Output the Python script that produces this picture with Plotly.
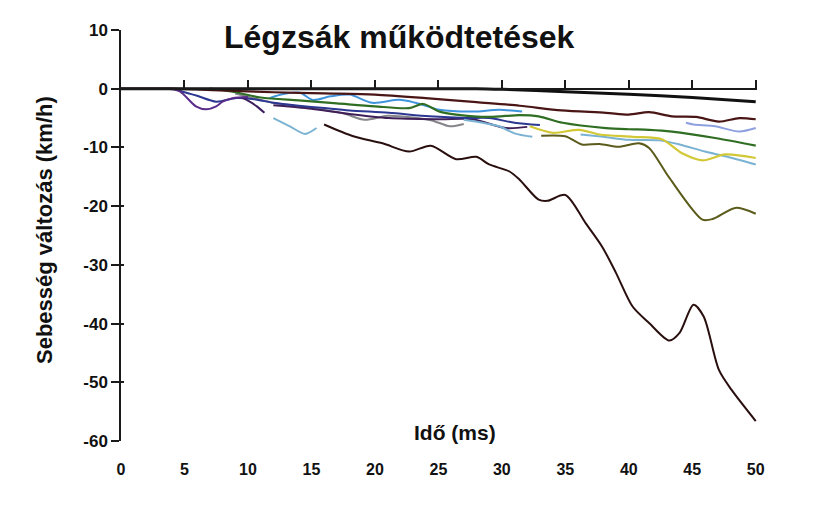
import plotly.graph_objects as go

# ---- data (time in ms, velocity change in km/h) ----
t_black = [0, 5, 10, 15, 20, 25, 28, 30, 35, 40, 45, 50]
v_black = [0, 0, 0, 0, 0, 0, 0, -0.1, -0.5, -0.95, -1.5, -2.2]

t_maroon = [0, 4, 8, 12, 16, 20, 24, 28, 31.4, 34.7, 38.2, 40, 41.6, 43.4, 45.3, 47.1, 48.7, 50]
v_maroon = [0, 0, -0.3, -0.6, -0.8, -1.0, -1.6, -2.3, -2.9, -3.7, -4.1, -4.4, -4.0, -4.7, -4.8, -5.6, -5.0, -5.2]

t_green = [7, 9, 11, 14, 17, 20, 22.7, 23.8, 25.1, 26.4, 29, 31.4, 32.9, 34.8, 38.2, 40, 41.6, 43.4, 46.8, 50]
v_green = [0, -0.6, -1.5, -2.0, -2.5, -3.0, -3.3, -2.6, -3.9, -4.4, -4.8, -4.5, -4.7, -5.8, -6.7, -6.9, -7.0, -7.3, -8.4, -9.7]

t_yellow = [32.2, 34, 36.1, 37.7, 40.3, 42.6, 44.2, 45.8, 47.6, 50]
v_yellow = [-6.4, -7.5, -7.0, -7.8, -8.2, -8.6, -11.0, -12.2, -11.2, -11.8]

t_lightblue = [27, 28.5, 29.8, 31, 32.4, 34, 36.2, 38, 40, 42.4, 44, 46, 47.6, 50]
v_lightblue = [-5.3, -5.8, -6.4, -7.6, -8.2, None, -7.8, -8.2, -8.7, -8.8, -9.5, -10.7, -11.5, -12.9]

t_olive = [33.1, 35, 36.3, 37.7, 39.2, 40.8, 41.6, 43.2, 45.8, 46.6, 48.4, 50]
v_olive = [-8.0, -8.1, -9.5, -9.4, -9.9, -9.3, -10.1, -15.2, -22.3, -22.2, -20.3, -21.3]

t_lavender = [44.5, 45.1, 46.8, 48.7, 50]
v_lavender = [-5.8, -6.1, -6.4, -7.3, -6.7]

t_brown = [16.0, 18.3, 20.6, 22.7, 24.4, 26.4, 28.0, 29.0, 30.6, 31.4, 32.9, 33.6, 35.0,
           36.6, 37.9, 39.0, 40.3, 41.6, 43.2, 44.0, 45.1, 45.9, 47.1, 48.1, 50.0]
v_brown = [-6.1, -8.1, -9.3, -10.7, -9.7, -12.0, -11.6, -12.9, -14.1, -15.5, -18.9, -19.1, -18.1,
           -22.9, -26.9, -31.4, -37.1, -39.9, -42.9, -41.6, -36.8, -38.8, -47.9, -51.3, -56.6]

t_purple = [3.5, 4.6, 5.9, 6.7, 7.5, 8.0, 8.8, 10]
v_purple = [0, -0.4, -3.0, -3.5, -3.0, -2.2, -1.6, -1.4]

t_darkpurple = [9.5, 9.9, 10.7, 11.3]
v_darkpurple = [-1.5, -1.9, -3.0, -4.1]

t_skyblue = [12.0, 13.3, 14.5, 15.4]
v_skyblue = [-5.0, -6.4, -7.7, -6.7]

t_blue = [11.7, 12.8, 14.1, 15.1, 16.5, 18.0, 19.8, 21.9, 23.2, 25.1, 27.7, 29.8, 31.6]
v_blue = [-1.6, -0.9, -0.7, -1.9, -1.3, -1.0, -2.4, -1.9, -2.4, -3.6, -3.9, -3.6, -3.9]

t_navy = [4.2, 5, 6, 7.5, 9.1, 10.5, 12, 14, 16, 18, 21.1, 24.3, 27.2, 29, 31, 33]
v_navy = [0, -0.6, -1.2, -2.2, -1.6, -1.8, -2.4, -2.9, -3.3, -3.7, -4.1, -4.7, -5.0, -5.0, -5.8, -6.2]

t_purple2 = [12, 15, 18, 21.1, 25.1, 27.7, 30.3, 32]
v_purple2 = [-2.8, -3.4, -4.3, -5.0, -5.2, -5.2, -6.7, -6.5]

t_grey = [9, 12, 15, 17.5, 19.2, 21, 23, 24.5, 25.9, 27]
v_grey = [-0.8, -2.4, -3.3, -4.2, -5.3, -4.6, -4.9, -5.4, -6.4, -6.0]

series = [
    (t_grey, v_grey, "#85858a", 2),
    (t_purple2, v_purple2, "#3f1f58", 2),
    (t_navy, v_navy, "#2b3790", 2),
    (t_blue, v_blue, "#3f94dc", 2),
    (t_skyblue, v_skyblue, "#7bb4d2", 2),
    (t_darkpurple, v_darkpurple, "#3c1e5e", 2),
    (t_purple, v_purple, "#5a2d8a", 2),
    (t_lightblue, v_lightblue, "#7ab2d4", 2),
    (t_lavender, v_lavender, "#8fa0e0", 2),
    (t_yellow, v_yellow, "#d2c836", 2.2),
    (t_olive, v_olive, "#5b5b1c", 2),
    (t_green, v_green, "#2f6e23", 2.2),
    (t_maroon, v_maroon, "#4a1515", 2.2),
    (t_brown, v_brown, "#2a0f0f", 2),
    (t_black, v_black, "#111111", 3),
]

x_ticks = [0, 5, 10, 15, 20, 25, 30, 35, 40, 45, 50]
y_ticks = [10, 0, -10, -20, -30, -40, -50, -60]

fig = go.Figure()
for t, v, c, w in series:
    fig.add_trace(go.Scatter(x=t, y=v, mode="lines", line=dict(color=c, width=w, shape="spline", smoothing=0.8),
                             connectgaps=False, showlegend=False, hoverinfo="skip"))

# invisible traces bound to the overlay axes (zero-line axis with upward ticks, right-side tick stubs)
fig.add_trace(go.Scatter(x=[0, 50], y=[0, 0], xaxis="x2", mode="lines", line=dict(width=0),
                         showlegend=False, hoverinfo="skip"))
fig.add_trace(go.Scatter(x=[0, 50], y=[0, 0], yaxis="y2", mode="lines", line=dict(width=0),
                         showlegend=False, hoverinfo="skip"))

bold = "Liberation Sans, Arial, sans-serif"
fig.update_layout(
    width=815, height=514,
    margin=dict(l=121, r=58, t=30, b=73),
    paper_bgcolor="white", plot_bgcolor="white",
    font=dict(family=bold, color="#111"),
    xaxis=dict(range=[0, 50.1], tickvals=x_ticks, ticktext=[f"<b>{x}</b>" for x in x_ticks],
               showline=False, showgrid=False, zeroline=False, ticks="",
               tickfont=dict(size=16, family="Liberation Sans Narrow, Liberation Sans, Arial", color="#111"),
               ticklabelstandoff=17),
    xaxis2=dict(range=[0, 50.1], overlaying="x", anchor="free", position=60 / 70,
                tickvals=x_ticks, showticklabels=False, showline=True, linecolor="#1a1a1a", linewidth=2,
                ticks="inside", ticklen=8, tickwidth=1.5, tickcolor="#1a1a1a",
                showgrid=False, zeroline=False),
    yaxis=dict(range=[-60, 10], tickvals=y_ticks, ticktext=[f"<b>{y}</b>" for y in y_ticks],
               showline=True, linecolor="#1a1a1a", linewidth=1.5, ticks="outside", ticklen=8,
               tickwidth=1.5, tickcolor="#1a1a1a", showgrid=False, zeroline=False,
               tickfont=dict(size=17, color="#111")),
    yaxis2=dict(range=[-60, 10], overlaying="y", anchor="x", side="left", tickvals=y_ticks,
                showticklabels=False, showline=False, ticks="inside", ticklen=3, tickwidth=1.5,
                tickcolor="#1a1a1a", showgrid=False, zeroline=False),
    annotations=[
        dict(text="<b>Légzsák működtetések</b>", xref="paper", yref="paper", x=(399 - 121) / 636,
             y=(441 - 37) / 411, xanchor="center", yanchor="middle", showarrow=False,
             font=dict(size=32, color="#111")),
        dict(text="<b>Sebesség változás (km/h)</b>", xref="paper", yref="paper", x=(45 - 121) / 636,
             y=(441 - 230) / 411, xanchor="center", yanchor="middle", textangle=-90, showarrow=False,
             font=dict(size=22, color="#111")),
        dict(text="<b>Idő (ms)</b>", xref="paper", yref="paper", x=(455 - 121) / 636,
             y=(441 - 432) / 411, xanchor="center", yanchor="middle", showarrow=False,
             font=dict(size=21, color="#111")),
    ],
)

fig.write_html("out.html")
